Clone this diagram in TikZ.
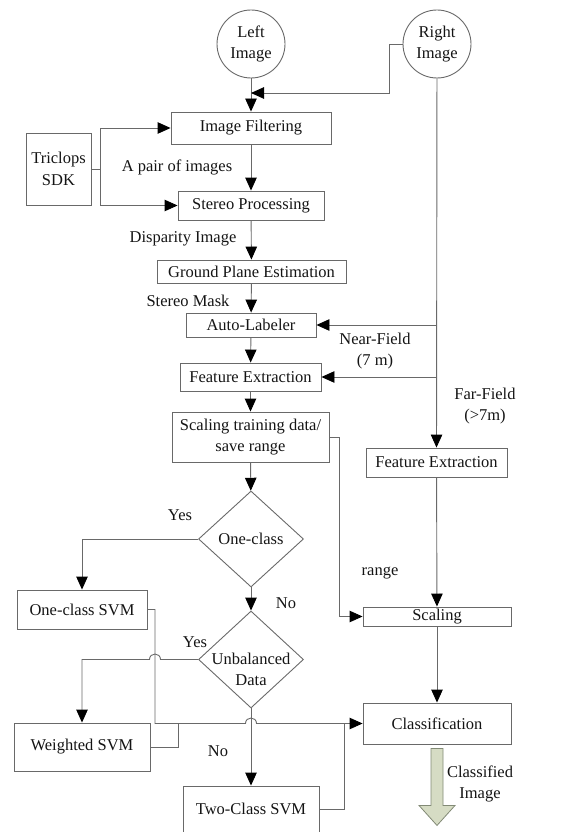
\documentclass[tikz,border=0pt]{standalone}
\usepackage{fontspec}
\setmainfont{Liberation Serif}
\usepackage{tikz}
\usetikzlibrary{arrows.meta,shapes.geometric,calc}
\definecolor{linegray}{RGB}{105,105,105}
\definecolor{textgray}{RGB}{20,20,20}
\definecolor{outfill}{RGB}{214,220,196}
\definecolor{outrule}{RGB}{130,138,118}
\tikzset{
  proc/.style={rectangle,draw=linegray,line width=0.9pt,align=center,inner sep=0pt,text=textgray},
  decide/.style={diamond,draw=linegray,line width=0.9pt,align=center,inner sep=-14pt,minimum width=105pt,minimum height=96pt,text=textgray},
  src/.style={circle,draw=linegray,line width=0.9pt,align=center,inner sep=0pt,minimum size=68pt,text=textgray},
  lbl/.style={align=center,inner sep=0pt,text=textgray},
  edge/.style={-{Triangle[length=13pt,width=11.5pt,color=black]},draw=linegray,line width=0.9pt},
  wire/.style={draw=linegray,line width=0.9pt}
}

\begin{document}
\begin{tikzpicture}[x=1pt,y=-1pt,font=\fontsize{16.5}{21.5}\selectfont]
  \useasboundingbox (0,0) rectangle (566,832);
  \node[src] (limg) at (251,44) {Left\\Image};
  \node[src] (rimg) at (437,44) {Right\\Image};
  \node[proc,minimum width=160pt,minimum height=32pt] (filt) at (251,128) {Image Filtering};
  \node[proc,minimum width=65pt,minimum height=72pt] (sdk) at (58.5,169) {Triclops\\SDK};
  \node[proc,minimum width=146pt,minimum height=29pt] (stereo) at (251,205.5) {Stereo Processing};
  \node[proc,minimum width=189pt,minimum height=23pt] (ground) at (251.5,271.5) {Ground Plane Estimation};
  \node[proc,minimum width=130pt,minimum height=24pt] (autolab) at (251,325) {Auto-Labeler};
  \node[proc,minimum width=141pt,minimum height=28pt] (featl) at (250.5,377) {Feature Extraction};
  \node[proc,minimum width=157pt,minimum height=50pt] (scalt) at (250.5,437) {Scaling training data/\\save range};
  \node[decide] (oneq) at (251,539) {One-class};
  \node[proc,minimum width=130pt,minimum height=39pt] (ocsvm) at (82,609.5) {One-class SVM};
  \node[decide,minimum height=97pt,text height=57pt,text depth=4.5pt] (unbq) at (251,659.5) {Unbalanced\\Data};
  \node[proc,minimum width=136pt,minimum height=48pt] (wsvm) at (82,747) {Weighted SVM};
  \node[proc,minimum width=136pt,minimum height=46pt] (tcsvm) at (251,809) {Two-Class SVM};
  \node[proc,minimum width=141pt,minimum height=29pt] (featr) at (436.5,462.5) {Feature Extraction};
  \node[proc,minimum width=148pt,minimum height=19pt] (scaling) at (437,616.5) {Scaling};
  \node[proc,minimum width=148pt,minimum height=41pt] (classif) at (437,723.5) {Classification};

  \node[lbl] (pairlbl) at (177,167) {A pair of images};
  \node[lbl] (displbl) at (183,239) {Disparity Image};
  \node[lbl] (masklbl) at (188,301) {Stereo Mask};
  \node[lbl] (nearlbl) at (375,351) {Near-Field\\(7 m)};
  \node[lbl] (farlbl) at (485,406) {Far-Field\\(>7m)};
  \node[lbl] (yesone) at (180,515) {Yes};
  \node[lbl] (rangelbl) at (380,573) {range};
  \node[lbl] (noone) at (286,603) {No};
  \node[lbl] (yestwo) at (195,642) {Yes};
  \node[lbl] (notwo) at (218,751) {No};
  \node[lbl] (outlbl) at (480,784) {Classified\\Image};

  \coordinate (rjoin) at (251,93);
  \coordinate (vbus) at (155,609.5);
  \coordinate (wjoin) at (178,723.5);
  \coordinate (tjoin) at (344,723.5);

  \draw[edge] (limg) -- (filt);
  \draw[edge] (rimg.west) -- ++(-13,0) |- (rjoin);
  \draw[edge] (sdk.east) -- ++(9,0) |- (filt.west);
  \draw[edge] (sdk.east) -- ++(9,0) |- (stereo.west);
  \draw[edge] (filt) -- (stereo);
  \draw[edge] (stereo) -- (ground);
  \draw[edge] (ground) -- (autolab);
  \draw[edge] (autolab) -- (featl);
  \draw[edge] (featl) -- (scalt);
  \draw[edge] (scalt) -- (oneq);
  \draw[edge] (oneq) -- (unbq);
  \draw[edge] (unbq) -- (tcsvm);
  \draw[edge] (rimg) -- (featr);
  \draw[edge] (rimg.south |- autolab.east) -- (autolab.east);
  \draw[edge] (rimg.south |- featl.east) -- (featl.east);
  \draw[edge] (featr) -- (scaling);
  \draw[edge] (scaling) -- (classif);
  \draw[edge] (scalt.east) -- ++(10,0) |- (scaling.west);
  \draw[edge] (oneq.west) -| (ocsvm.north);
  \draw[edge] (unbq.west) -- ($(vbus |- unbq.west)+(5.5,0)$)
    .. controls +(0,-7.3) and +(0,-7.3) .. ($(vbus |- unbq.west)+(-5.5,0)$) -| (wsvm.north);
  \draw[edge] (ocsvm.east) -- (vbus) -- (vbus |- classif.west)
    -- ($(unbq.south |- classif.west)+(-5.5,0)$)
    .. controls +(0,-7.3) and +(0,-7.3) .. ($(unbq.south |- classif.west)+(5.5,0)$) -- (classif.west);
  \draw[wire] (wsvm.east) -| (wjoin);
  \draw[wire] (tcsvm.east) -| (tjoin);
  \draw[draw=outrule,fill=outfill,line width=0.8pt] ($(classif.south)+(-6,4)$) -- ++(0,57) -- ++(-12,0)
    -- ($(classif.south)+(0,81)$) -- ($(classif.south)+(18,61)$) -- ++(-12,0) -- ($(classif.south)+(6,4)$) -- cycle;
\end{tikzpicture}
\end{document}
